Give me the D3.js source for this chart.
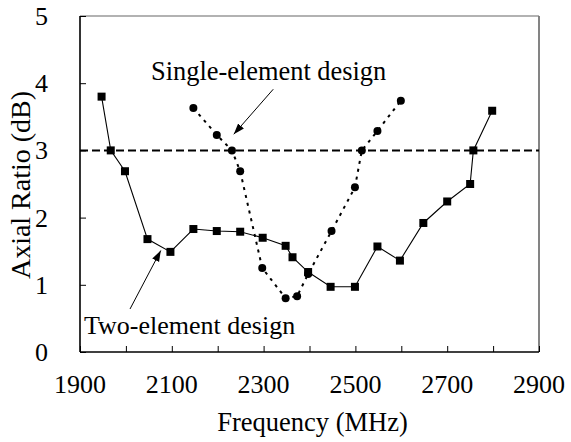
<!DOCTYPE html>
<html>
<head>
<meta charset="utf-8">
<script src="https://cdn.jsdelivr.net/npm/d3@7"></script>
<style>
  body { margin: 0; background: #fff; }
</style>
</head>
<body>
<svg></svg>
<script>
const width = 571;
const height = 442;
const margin = { left: 80, right: 32, top: 16, bottom: 90 };
const serif = '"Liberation Serif"';

// two-element design (squares, solid line)
const twoFreq = [1947, 1967, 1998, 2047, 2097, 2147, 2198, 2249, 2298, 2348, 2363, 2397,
                 2446, 2499, 2548, 2597, 2648, 2700, 2750, 2757, 2798];
const twoAR = [3.80, 3.00, 2.69, 1.68, 1.49, 1.83, 1.80, 1.79, 1.70, 1.58, 1.41, 1.19,
               0.97, 0.97, 1.57, 1.36, 1.92, 2.24, 2.50, 3.00, 3.59];

// single-element design (circles, dotted line)
const oneFreq = [2147, 2198, 2231, 2249, 2297, 2348, 2373, 2397, 2448, 2499, 2514, 2548, 2599];
const oneAR = [3.63, 3.23, 3.00, 2.69, 1.25, 0.80, 0.83, 1.16, 1.80, 2.45, 3.00, 3.29, 3.74];

const xTicks = [1900, 2000, 2100, 2200, 2300, 2400, 2500, 2600, 2700, 2800, 2900];
const xLabels = [1900, 2100, 2300, 2500, 2700, 2900];
const yTicks = [0, 1, 2, 3, 4, 5];
const limitAR = 3;

let svg = d3.select("svg").attr("width", width).attr("height", height);

let scX = d3.scaleLinear().domain([1900, 2900]).range([margin.left, width - margin.right]);
let scY = d3.scaleLinear().domain([0, 5]).range([height - margin.bottom, margin.top]);

const x0 = scX.range()[0], x1 = scX.range()[1];
const y0 = scY.range()[0], y1 = scY.range()[1];

// frame: top and right grey, left and bottom black
svg.append("line").attr("x1", x0).attr("x2", x1).attr("y1", y1).attr("y2", y1)
    .attr("stroke", "#666").attr("stroke-width", 1.2);
svg.append("line").attr("x1", x1).attr("x2", x1).attr("y1", y1).attr("y2", y0)
    .attr("stroke", "#777").attr("stroke-width", 1.8);

// axes with inward ticks
let axisX = d3.axisTop(scX).tickValues(xTicks).tickSize(6).tickFormat("");
svg.append("g").attr("transform", `translate(0,${y0})`).call(axisX)
    .call(g => g.select(".domain").attr("stroke-width", 1.6).attr("d", `M${x0},0H${x1}`));

let axisY = d3.axisRight(scY).tickValues(yTicks).tickSize(6).tickFormat("");
svg.append("g").attr("transform", `translate(${x0},0)`).call(axisY)
    .call(g => g.select(".domain").attr("stroke-width", 1.6).attr("d", `M0,${y0}V${y1}`));

function label(sel, size) {
    return sel.style("font-family", serif).style("font-size", size + "px").attr("fill", "#000");
}

svg.selectAll(".xlab").data(xLabels).enter().append("text")
    .attr("class", "xlab")
    .attr("x", d => scX(d)).attr("y", y0 + 41)
    .attr("text-anchor", "middle")
    .call(label, 26)
    .text(d => d);

svg.selectAll(".ylab").data(yTicks).enter().append("text")
    .attr("class", "ylab")
    .attr("x", x0 - 32).attr("y", d => scY(d) + 9)
    .attr("text-anchor", "end")
    .call(label, 26)
    .text(d => d);

svg.append("text").attr("x", (x0 + x1) / 2 + 3).attr("y", 431)
    .attr("text-anchor", "middle").call(label, 26.5)
    .text("Frequency (MHz)");

svg.append("text").attr("transform", `translate(30,${(y0 + y1) / 2 + 1}) rotate(-90)`)
    .attr("text-anchor", "middle").call(label, 28)
    .text("Axial Ratio (dB)");

// 3 dB reference line
svg.append("line").attr("x1", x0).attr("x2", x1)
    .attr("y1", scY(limitAR)).attr("y2", scY(limitAR))
    .attr("stroke", "#000").attr("stroke-width", 2).attr("stroke-dasharray", "8,4");

let line = d3.line().x(d => scX(d[0])).y(d => scY(d[1]));

const twoData = twoFreq.map((f, i) => [f, twoAR[i]]);
const oneData = oneFreq.map((f, i) => [f, oneAR[i]]);

svg.append("path").datum(twoData).attr("d", line)
    .attr("fill", "none").attr("stroke", "#000").attr("stroke-width", 1.1);

svg.append("path").datum(oneData).attr("d", line)
    .attr("fill", "none").attr("stroke", "#000").attr("stroke-width", 2)
    .attr("stroke-dasharray", "3,5");

svg.selectAll(".sq").data(twoData).enter().append("rect")
    .attr("class", "sq")
    .attr("x", d => scX(d[0]) - 4).attr("y", d => scY(d[1]) - 4)
    .attr("width", 8).attr("height", 8).attr("fill", "#000");

svg.selectAll(".dot").data(oneData).enter().append("circle")
    .attr("class", "dot")
    .attr("cx", d => scX(d[0])).attr("cy", d => scY(d[1])).attr("r", 4)
    .attr("fill", "#000");

// annotations
svg.append("defs").append("marker")
    .attr("id", "arrow").attr("viewBox", "0 0 10 10")
    .attr("refX", 10).attr("refY", 5)
    .attr("markerWidth", 11).attr("markerHeight", 11)
    .attr("markerUnits", "userSpaceOnUse")
    .attr("orient", "auto")
    .append("path").attr("d", "M0,1.5L10,5L0,8.5Z").attr("fill", "#000");

const arrows = [
  { from: [2321, 3.91], to: [2235, 3.24] },
  { from: [2009, 0.64], to: [2076, 1.51] }
];
svg.selectAll(".arrow").data(arrows).enter().append("line")
    .attr("class", "arrow")
    .attr("x1", d => scX(d.from[0])).attr("y1", d => scY(d.from[1]))
    .attr("x2", d => scX(d.to[0])).attr("y2", d => scY(d.to[1]))
    .attr("stroke", "#000").attr("stroke-width", 1)
    .attr("marker-end", "url(#arrow)");

svg.append("text").attr("x", 151).attr("y", 80).call(label, 26.4)
    .text("Single-element design");
svg.append("text").attr("x", 84).attr("y", 334).call(label, 26)
    .text("Two-element design");
</script>
</body>
</html>
